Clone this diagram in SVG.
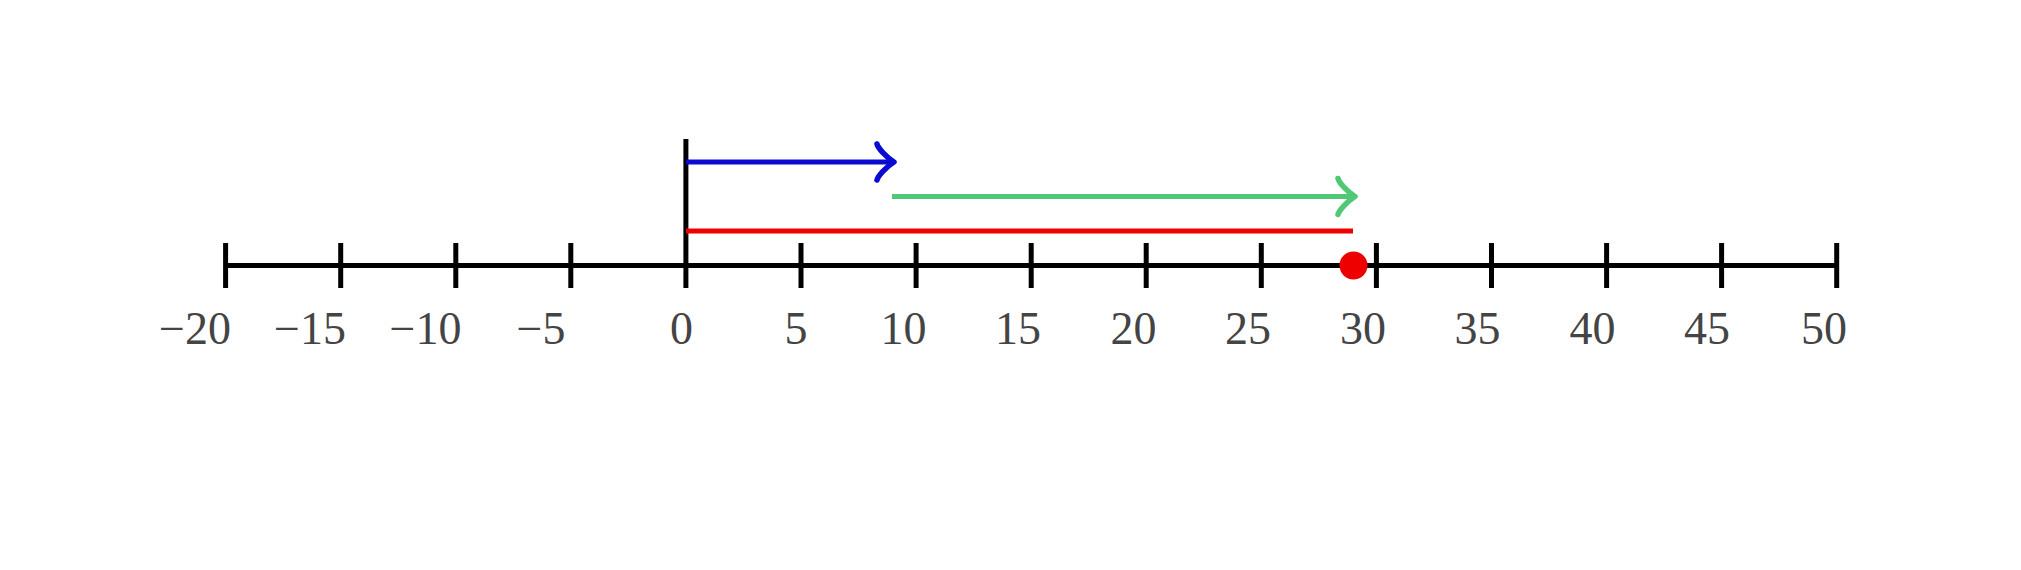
<svg xmlns="http://www.w3.org/2000/svg" width="2021" height="570" viewBox="0 0 2021 570">
<style>
.ax{stroke:#000;stroke-width:5;fill:none}
.lbl{font-family:"Liberation Serif","Times New Roman",serif;font-size:46px;fill:#444;text-anchor:middle}
.seg{stroke-width:5;fill:none;stroke-linecap:butt}
.head{stroke-width:5.5;fill:none;stroke-linecap:round;stroke-linejoin:round}
</style>
<rect width="2021" height="570" fill="#fff"/>
<g id="axis">
<line class="ax" x1="225.6" y1="265.5" x2="1836.7" y2="265.5"/>
<g id="ticks">
<line class="ax" x1="225.6" y1="243" x2="225.6" y2="288"/>
<line class="ax" x1="340.7" y1="243" x2="340.7" y2="288"/>
<line class="ax" x1="455.8" y1="243" x2="455.8" y2="288"/>
<line class="ax" x1="570.8" y1="243" x2="570.8" y2="288"/>
<line class="ax" x1="685.9" y1="139" x2="685.9" y2="288"/>
<line class="ax" x1="801.0" y1="243" x2="801.0" y2="288"/>
<line class="ax" x1="916.1" y1="243" x2="916.1" y2="288"/>
<line class="ax" x1="1031.2" y1="243" x2="1031.2" y2="288"/>
<line class="ax" x1="1146.2" y1="243" x2="1146.2" y2="288"/>
<line class="ax" x1="1261.3" y1="243" x2="1261.3" y2="288"/>
<line class="ax" x1="1376.4" y1="243" x2="1376.4" y2="288"/>
<line class="ax" x1="1491.5" y1="243" x2="1491.5" y2="288"/>
<line class="ax" x1="1606.6" y1="243" x2="1606.6" y2="288"/>
<line class="ax" x1="1721.6" y1="243" x2="1721.6" y2="288"/>
<line class="ax" x1="1836.7" y1="243" x2="1836.7" y2="288"/>
</g>
<g id="labels">
<text class="lbl" x="195" y="344">−20</text>
<text class="lbl" x="310" y="344">−15</text>
<text class="lbl" x="425.5" y="344">−10</text>
<text class="lbl" x="541" y="344">−5</text>
<text class="lbl" x="681.5" y="344">0</text>
<text class="lbl" x="796" y="344">5</text>
<text class="lbl" x="903.5" y="344">10</text>
<text class="lbl" x="1018" y="344">15</text>
<text class="lbl" x="1133.5" y="344">20</text>
<text class="lbl" x="1248" y="344">25</text>
<text class="lbl" x="1363" y="344">30</text>
<text class="lbl" x="1477.5" y="344">35</text>
<text class="lbl" x="1592.5" y="344">40</text>
<text class="lbl" x="1707" y="344">45</text>
<text class="lbl" x="1824" y="344">50</text>
</g>
</g>
<g id="connectors">
<g id="blue-arrow" stroke="#0a0ad2">
<line class="seg" x1="686" y1="162" x2="892" y2="162"/>
<path class="head" d="M877,144 C878,148 886,157 894,162 C886,167 878,176 877,180"/>
</g>
<g id="green-arrow" stroke="#50c878">
<line class="seg" x1="892" y1="196.5" x2="1353" y2="196.5"/>
<path class="head" d="M1338,178.5 C1339,182.5 1347,191.5 1355,196.5 C1347,201.5 1339,210.5 1338,214.5"/>
</g>
<g id="red-segment">
<line class="seg" stroke="#ee0000" x1="686" y1="231" x2="1353" y2="231"/>
</g>
</g>
<g id="point">
<circle cx="1353.5" cy="265.5" r="14" fill="#ee0000"/>
</g>
</svg>
